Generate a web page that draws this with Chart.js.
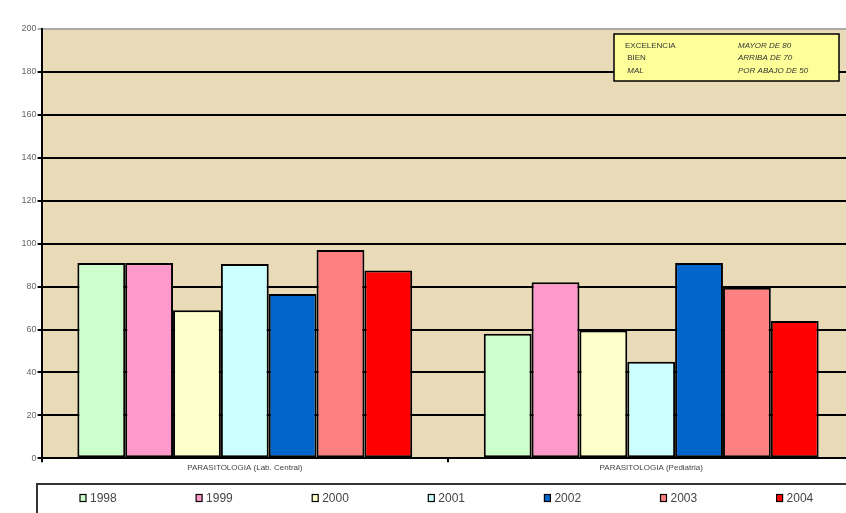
<!DOCTYPE html>
<html>
<head>
<meta charset="utf-8">
<script src="https://cdn.jsdelivr.net/npm/chart.js@4.4.1/dist/chart.umd.min.js"></script>
<style>
  html, body { margin: 0; padding: 0; background: #fff; overflow: hidden; }
  #wrap { position: absolute; left: 0; top: 0; width: 860px; height: 513px; }
</style>
</head>
<body>
<div id="wrap"><canvas id="myChart" width="860" height="513"></canvas></div>
<script>
// data
const categories = ['PARASITOLOGIA (Lab. Central)', 'PARASITOLOGIA (Pediatria)']
const years = ['1998', '1999', '2000', '2001', '2002', '2003', '2004']
const v1998 = [91, 58]
const v1999 = [91, 82]
const v2000 = [69, 59.5]
const v2001 = [90.5, 45]
const v2002 = [76.5, 91]
const v2003 = [97, 79.5]
const v2004 = [87.5, 64]
const yTicks = [0, 20, 40, 60, 80, 100, 120, 140, 160, 180, 200]
const noteLeft = ['EXCELENCIA', ' BIEN', ' MAL']
const noteRight = ['MAYOR DE 80', 'ARRIBA DE 70', 'POR ABAJO DE 50']

const barColors = ['#CCFFCC', '#FF99CC', '#FFFFCC', '#CCFFFF', '#0066CC', '#FF8080', '#FF0000']
const series = [v1998, v1999, v2000, v2001, v2002, v2003, v2004]

const fondo = {
    id: 'fondo',
    beforeDraw(chart) {
        const { ctx, chartArea: a } = chart
        ctx.save()
        ctx.fillStyle = '#EADBB8'
        ctx.fillRect(a.left, a.top, a.right - a.left, a.bottom - a.top)
        ctx.restore()
    }
}

const extras = {
    id: 'extras',
    afterDraw(chart) {
        const ctx = chart.ctx
        ctx.save()
        // note box
        ctx.fillStyle = '#FFFF99'
        ctx.fillRect(614, 34, 225, 47)
        ctx.strokeStyle = '#000'
        ctx.lineWidth = 1.5
        ctx.strokeRect(614, 34, 225, 47)
        ctx.fillStyle = '#333'
        ctx.textBaseline = 'middle'
        ctx.textAlign = 'left'
        for (let i = 0; i < noteLeft.length; i++) {
            const y = 45.5 + i * 12.5
            ctx.font = (i == 2 ? 'italic ' : '') + '8px "Liberation Sans", Arial'
            ctx.fillText(noteLeft[i], 625, y)
            ctx.font = 'italic 8px "Liberation Sans", Arial'
            ctx.fillText(noteRight[i], 738, y)
        }
        // legend box
        ctx.strokeStyle = '#333'
        ctx.lineWidth = 2
        ctx.beginPath()
        ctx.moveTo(37, 520)
        ctx.lineTo(37, 484)
        ctx.lineTo(870, 484)
        ctx.stroke()
        ctx.font = '12px "Liberation Sans", Arial'
        chart.data.datasets.forEach(function (ds, i) {
            const x = 80 + i * 116.1
            ctx.fillStyle = ds.backgroundColor
            ctx.fillRect(x, 494.5, 6, 7)
            ctx.strokeStyle = '#000'
            ctx.lineWidth = 1.2
            ctx.strokeRect(x, 494.5, 6, 7)
            ctx.fillStyle = '#444'
            ctx.fillText(ds.label, x + 10, 498.5)
        })
        ctx.restore()
    }
}

function my_bar_chart() {
    new Chart('myChart', {
        type: 'bar',
        data: {
            labels: categories,
            datasets: years.map(function (y, i) {
                return {
                    label: y,
                    data: series[i],
                    backgroundColor: barColors[i],
                    borderColor: '#000',
                    borderWidth: 2,
                    borderSkipped: false,
                    barPercentage: 1,
                    categoryPercentage: 0.824
                }
            })
        },
        options: {
            responsive: false,
            animation: false,
            devicePixelRatio: 1,
            layout: { padding: { left: 0, top: 29, right: 5.6, bottom: 0 } },
            scales: {
                x: {
                    offset: true,
                    afterFit: function (scale) { scale.height = 54.7 },
                    grid: {
                        offset: true,
                        drawOnChartArea: false,
                        tickLength: 4,
                        color: '#000',
                        lineWidth: 2
                    },
                    border: { color: '#000', width: 2 },
                    ticks: {
                        font: { size: 8, family: '"Liberation Sans", Arial' },
                        color: '#444',
                        padding: 1
                    }
                },
                y: {
                    min: 0,
                    max: 200,
                    afterFit: function (scale) { scale.width = 41.6 },
                    afterBuildTicks: function (scale) {
                        scale.ticks = yTicks.map(function (v) { return { value: v } })
                    },
                    grid: {
                        color: function (c) { return c.tick && c.tick.value == 200 ? '#AAAAAA' : '#000' },
                        lineWidth: 2,
                        tickLength: 4
                    },
                    border: { color: '#000', width: 2 },
                    ticks: {
                        font: { size: 9, family: '"Liberation Sans", Arial' },
                        color: '#666',
                        padding: 1
                    }
                }
            },
            plugins: {
                legend: { display: false },
                tooltip: { enabled: false }
            }
        },
        plugins: [fondo, extras]
    })
}

my_bar_chart()
</script>
</body>
</html>
